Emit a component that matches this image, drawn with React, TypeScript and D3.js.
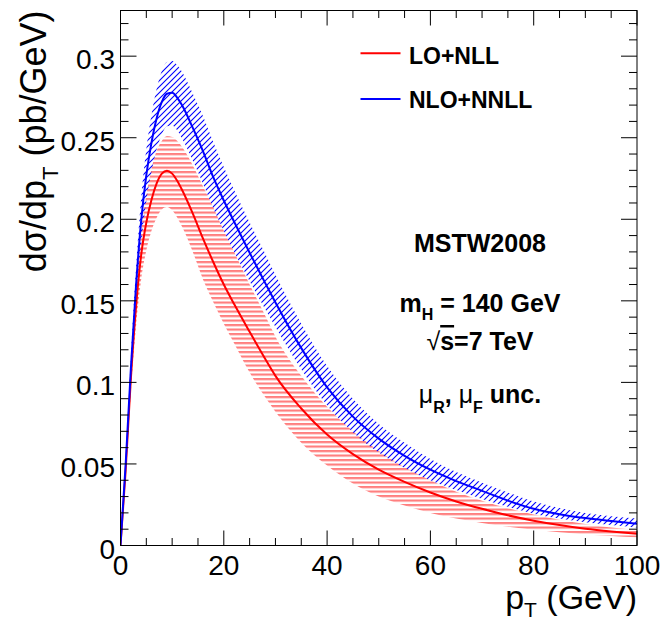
import React from "react";
import * as d3 from "d3";

// transverse momentum grid (GeV)
const pT = [0, 1, 2, 3, 4, 5, 6, 7, 8, 9, 10, 11, 12, 14, 16, 18, 20, 22, 25, 28, 30, 35, 40, 45, 50, 55, 60, 65, 70, 75, 80, 85, 90, 95, 100];

// LO+NLL central and scale band (pb/GeV)
const loNll = [0, 0.046, 0.102, 0.146, 0.178, 0.198, 0.212, 0.222, 0.228, 0.2298, 0.228, 0.2235, 0.2175, 0.2035, 0.188, 0.1735, 0.16, 0.148, 0.131, 0.1145, 0.104, 0.084, 0.068, 0.056, 0.0465, 0.039, 0.0325, 0.027, 0.0225, 0.0185, 0.0152, 0.0125, 0.0103, 0.0086, 0.0072];
const loNllUp = [0, 0.05, 0.11, 0.158, 0.193, 0.215, 0.231, 0.242, 0.248, 0.251, 0.2505, 0.248, 0.244, 0.233, 0.22, 0.207, 0.193, 0.18, 0.16, 0.141, 0.128, 0.104, 0.085, 0.07, 0.058, 0.048, 0.04, 0.033, 0.0275, 0.0228, 0.019, 0.0158, 0.0132, 0.011, 0.0095];
const loNllDn = [0, 0.042, 0.094, 0.134, 0.163, 0.181, 0.193, 0.201, 0.206, 0.2075, 0.2055, 0.201, 0.195, 0.18, 0.163, 0.149, 0.136, 0.124, 0.106, 0.091, 0.082, 0.063, 0.049, 0.038, 0.03, 0.0245, 0.02, 0.0165, 0.0138, 0.0115, 0.0096, 0.0081, 0.0068, 0.0058, 0.005];

// NLO+NNLL central and scale band (pb/GeV)
const nloNnll = [0, 0.05, 0.108, 0.159, 0.199, 0.227, 0.247, 0.262, 0.272, 0.277, 0.2775, 0.2745, 0.2695, 0.256, 0.2415, 0.2255, 0.2115, 0.1985, 0.1795, 0.161, 0.149, 0.121, 0.097, 0.079, 0.0655, 0.055, 0.0465, 0.0395, 0.0335, 0.0275, 0.0225, 0.0192, 0.0168, 0.015, 0.0133];
const nloNnllUp = [0, 0.053, 0.115, 0.17, 0.213, 0.243, 0.264, 0.28, 0.291, 0.2965, 0.297, 0.2945, 0.29, 0.277, 0.263, 0.247, 0.232, 0.218, 0.198, 0.179, 0.166, 0.136, 0.11, 0.09, 0.0745, 0.063, 0.053, 0.045, 0.0385, 0.0325, 0.027, 0.023, 0.02, 0.018, 0.0165];
const nloNnllDn = [0, 0.047, 0.101, 0.148, 0.185, 0.211, 0.229, 0.243, 0.252, 0.257, 0.2575, 0.2545, 0.249, 0.236, 0.2215, 0.2065, 0.193, 0.18, 0.162, 0.145, 0.134, 0.108, 0.086, 0.0695, 0.057, 0.0475, 0.04, 0.034, 0.0285, 0.0238, 0.0195, 0.0165, 0.0143, 0.0126, 0.0111];

const xTicks = [0, 20, 40, 60, 80, 100];
const xTickLabels = ["0", "20", "40", "60", "80", "100"];
const yTicks = [0, 0.05, 0.1, 0.15, 0.2, 0.25, 0.3];
const yTickLabels = ["0", "0.05", "0.1", "0.15", "0.2", "0.25", "0.3"];

const font = "'Liberation Sans', Arial, Helvetica, sans-serif";

export default function App() {
  const left = 120.5, right = 637, top = 10.5, bottom = 545.5;
  const x = d3.scaleLinear().domain([0, 100]).range([left, right]);
  const y = d3.scaleLinear().domain([0, 0.328]).range([bottom, top]);

  const band = (lo: number[], hi: number[]) =>
    d3.area<number>().x((_, i) => x(pT[i])).y0((_, i) => y(lo[i])).y1((_, i) => y(hi[i])).curve(d3.curveMonotoneX)(pT) || "";
  const line = (v: number[]) =>
    d3.line<number>().x((_, i) => x(pT[i])).y((_, i) => y(v[i])).curve(d3.curveMonotoneX)(pT) || "";

  const xMinor = d3.range(0, 100.01, 5);
  const yMinor = d3.range(0, 0.3281, 0.01);

  return (
    <div style={{ position: "absolute", left: 0, top: 0 }}>
      <svg width={662} height={624} style={{ display: "block", background: "#fff" }} fontFamily={font}>
        <defs>
          <clipPath id="frame">
            <rect x={left} y={top} width={right - left} height={bottom - top} />
          </clipPath>
          <pattern id="redHatch" patternUnits="userSpaceOnUse" width={8} height={4.5}>
            <rect x={0} y={0} width={8} height={2.2} fill="#ff7f7f" />
          </pattern>
          <pattern id="blueHatch" patternUnits="userSpaceOnUse" width={6} height={6}>
            <path d="M0,6 L6,0 M-1,1 L1,-1 M5,7 L7,5" stroke="#0000ff" strokeWidth={1.1} />
          </pattern>
        </defs>

        <g clipPath="url(#frame)">
          <path d={band(loNllDn, loNllUp)} fill="url(#redHatch)" />
          <path d={band(nloNnllDn, nloNnllUp)} fill="url(#blueHatch)" />
          <path d={line(loNll)} fill="none" stroke="#ff0000" strokeWidth={2} />
          <path d={line(nloNnll)} fill="none" stroke="#0000ff" strokeWidth={2} />
        </g>

        {/* frame and ticks */}
        <rect x={left} y={top} width={right - left} height={bottom - top} fill="none" stroke="#000" strokeWidth={1} />
        <g stroke="#000" strokeWidth={1}>
          {xMinor.map(t => {
            const len = xTicks.includes(t) ? 15 : 7.5;
            return <g key={"x" + t}>
              <line x1={x(t)} x2={x(t)} y1={bottom} y2={bottom - len} />
              <line x1={x(t)} x2={x(t)} y1={top} y2={top + len} />
            </g>;
          })}
          {yMinor.map(t => {
            const major = yTicks.some(v => Math.abs(v - t) < 1e-6);
            const len = major ? 16 : 8;
            return <g key={"y" + t.toFixed(2)}>
              <line x1={left} x2={left + len} y1={y(t)} y2={y(t)} />
              <line x1={right} x2={right - len} y1={y(t)} y2={y(t)} />
            </g>;
          })}
        </g>

        <g fontSize={28} fill="#000">
          {xTicks.map((t, i) => (
            <text key={"xl" + t} x={x(t)} y={bottom + 29} textAnchor="middle">{xTickLabels[i]}</text>
          ))}
          {yTicks.map((t, i) => (
            <text key={"yl" + t} x={115} y={y(t) + 13} textAnchor="end">{yTickLabels[i]}</text>
          ))}
        </g>

        {/* axis titles */}
        <text x={right} y={609} fontSize={34} textAnchor="end">
          p<tspan fontSize={21} dy={8}>T</tspan><tspan dy={-8}> (GeV)</tspan>
        </text>
        <text transform={`translate(46,${top}) rotate(-90)`} fontSize={36} textAnchor="end">
          dσ/dp<tspan fontSize={22} dy={12}>T</tspan><tspan dy={-12}> (pb/GeV)</tspan>
        </text>

        {/* legend */}
        <line x1={360.5} x2={400.5} y1={53.3} y2={53.3} stroke="#ff0000" strokeWidth={2} />
        <text x={409} y={64.3} fontSize={23} fontWeight="bold">LO+NLL</text>
        <line x1={360.5} x2={400.5} y1={99} y2={99} stroke="#0000ff" strokeWidth={2} />
        <text x={409} y={108.3} fontSize={23} fontWeight="bold">NLO+NNLL</text>

        {/* annotations */}
        <g fontSize={25} fontWeight="bold" textAnchor="middle">
          <text x={480} y={252.3}>MSTW2008</text>
          <text x={480} y={311.7}>
            m<tspan fontSize={16} dy={8}>H</tspan><tspan dy={-8}> = 140 GeV</tspan>
          </text>
          <text x={480} y={350}>
            <tspan fontWeight="normal">√</tspan><tspan textDecoration="overline" style={{ textDecoration: "overline" }}>s</tspan>=7 TeV
          </text>
          <text x={480} y={403.3}>
            <tspan fontWeight="normal">μ</tspan><tspan fontSize={16} dy={10}>R</tspan><tspan dy={-10}>, </tspan><tspan fontWeight="normal">μ</tspan><tspan fontSize={16} dy={10}>F</tspan><tspan dy={-10}> unc.</tspan>
          </text>
        </g>
      </svg>
    </div>
  );
}
